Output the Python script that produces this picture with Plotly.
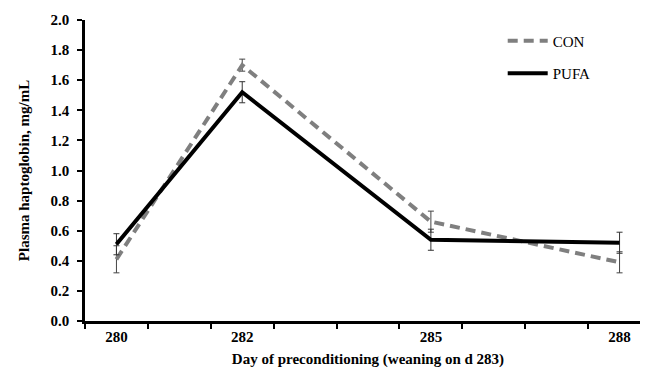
import plotly.graph_objects as go

days = ["280", "281", "282", "283", "284", "285", "286", "287", "288"]
tick_text = ["280", "", "282", "", "", "285", "", "", "288"]
sample_days = ["280", "282", "285", "288"]
con_mean = [0.41, 1.70, 0.66, 0.39]
con_se = [0.09, 0.04, 0.07, 0.07]
pufa_mean = [0.51, 1.52, 0.54, 0.52]
pufa_se = [0.07, 0.07, 0.07, 0.07]
y_ticks = [0.0, 0.2, 0.4, 0.6, 0.8, 1.0, 1.2, 1.4, 1.6, 1.8, 2.0]
sig_day = "282"
sig_y = 1.82

font_family = "Liberation Serif, Times New Roman, serif"

fig = go.Figure()
fig.add_trace(go.Scatter(
    x=sample_days, y=con_mean, name="CON", mode="lines",
    line=dict(color="#7f7f7f", width=4, dash="10px,6px"),
    error_y=dict(type="data", array=con_se, color="#444444", thickness=1, width=3),
    legendgroup="a",
))
fig.add_trace(go.Scatter(
    x=sample_days, y=pufa_mean, name="PUFA", mode="lines",
    line=dict(color="#000000", width=4),
    error_y=dict(type="data", array=pufa_se, color="#333333", thickness=1, width=3),
    legendgroup="b",
))
fig.add_annotation(x=sig_day, y=sig_y, text="*", showarrow=False,
                   font=dict(family=font_family, size=14, color="#666666"))

fig.update_layout(
    width=648, height=372,
    margin=dict(l=77, r=5, t=12, b=59),
    plot_bgcolor="white", paper_bgcolor="white",
    font=dict(family=font_family, color="#000000"),
    showlegend=True,
    legend=dict(x=0.738, y=0.985, xanchor="left", yanchor="top",
                font=dict(family=font_family, size=15, color="#000000"),
                bgcolor="rgba(0,0,0,0)", tracegroupgap=10, itemwidth=40),
    xaxis=dict(
        type="category", categoryorder="array", categoryarray=days,
        tickvals=days, ticktext=tick_text, tickson="boundaries",
        range=[-0.5, len(days) - 0.5],
        showline=True, linecolor="black", linewidth=2.5,
        ticks="outside", ticklen=5, tickwidth=2, tickcolor="black",
        showgrid=False, zeroline=False,
        tickfont=dict(family=font_family, size=15, color="#000000", weight="bold"),
        title=dict(text="<b>Day of preconditioning (weaning on d 283)</b>",
                   font=dict(family=font_family, size=15, color="#000000"), standoff=10),
    ),
    yaxis=dict(
        range=[0, 2.0], tickvals=y_ticks,
        ticktext=[f"{v:.1f}" for v in y_ticks],
        showline=True, linecolor="black", linewidth=2.5,
        ticks="outside", ticklen=5, tickwidth=2, tickcolor="black",
        ticklabelstandoff=5,
        showgrid=False, zeroline=False,
        tickfont=dict(family=font_family, size=15, color="#000000", weight="bold"),
        title=dict(text="<b>Plasma haptoglobin, mg/mL</b>",
                   font=dict(family=font_family, size=15, color="#000000"), standoff=18),
    ),
)

fig.write_html("out.html")
